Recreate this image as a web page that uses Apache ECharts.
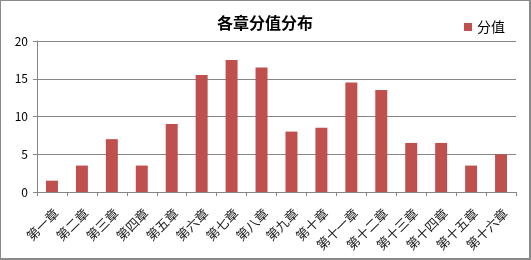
<!DOCTYPE html>
<html><head><meta charset="utf-8">
<script src="https://cdn.jsdelivr.net/npm/echarts@6/dist/echarts.min.js"></script>
<style>
html,body{margin:0;padding:0;background:#fff;}
#c{width:531px;height:260px;box-sizing:border-box;border:1px solid #8a8a8a;border-right-width:2px;border-bottom-width:2px;}
</style></head>
<body><div id="c"></div>
<script>
const categories = ['第一章','第二章','第三章','第四章','第五章','第六章','第七章','第八章','第九章','第十章','第十一章','第十二章','第十三章','第十四章','第十五章','第十六章'];
const scores = [1.5, 3.5, 7, 3.5, 9, 15.5, 17.5, 16.5, 8, 8.5, 14.5, 13.5, 6.5, 6.5, 3.5, 5];
const seriesName = '分值';
const titleText = '各章分值分布';

const chart = echarts.init(document.getElementById('c'), null, {renderer:'canvas'});
chart.setOption({
  animation:false,
  textStyle:{fontFamily:'"Noto Sans CJK SC","Microsoft YaHei",sans-serif'},
  title:{text:titleText,left:'center',top:9,textStyle:{fontSize:16,fontWeight:'bold',color:'#000'}},
  legend:{right:19,top:14,itemWidth:8,itemHeight:8,itemGap:3,textStyle:{fontSize:14,color:'#000'},data:[{name:seriesName,icon:'rect'}]},
  grid:{left:36,right:13,top:40,bottom:66,containLabel:false},
  xAxis:{type:'category',data:categories,
    axisLine:{lineStyle:{color:'#868686'}},
    axisTick:{show:true,alignWithLabel:false,length:4,lineStyle:{color:'#868686'}},
    axisLabel:{rotate:45,fontSize:13,color:'#222',margin:23,padding:[0,-6,0,0],interval:0}},
  yAxis:{type:'value',min:0,max:20,interval:5,
    axisLine:{show:true,lineStyle:{color:'#868686'}},
    axisTick:{show:true,length:4,lineStyle:{color:'#868686'}},
    axisLabel:{fontSize:12,color:'#000',margin:9},
    splitLine:{lineStyle:{color:'#868686'}}},
  series:[{name:seriesName,type:'bar',data:scores,barWidth:'40%',itemStyle:{color:'#c0504d'}}]
});
</script></body></html>
